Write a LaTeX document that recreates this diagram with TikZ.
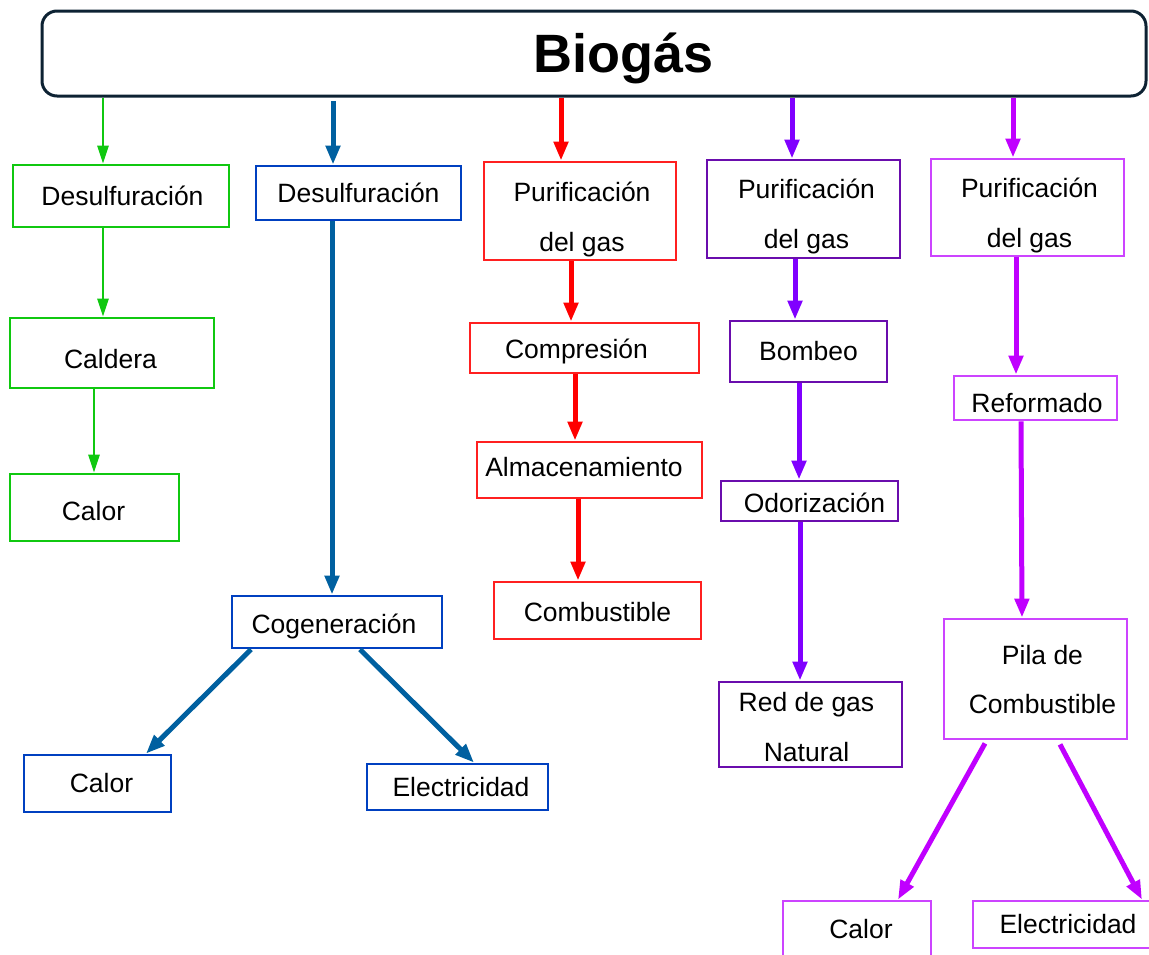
\documentclass[tikz,border=0pt]{standalone}
\usepackage{fontspec}
\setmainfont{Liberation Sans}
\usetikzlibrary{arrows.meta}
\definecolor{cgreen}{RGB}{16,200,16}
\definecolor{cbluea}{RGB}{0,96,160}
\definecolor{cblueb}{RGB}{0,64,192}
\definecolor{creda}{RGB}{255,0,0}
\definecolor{credb}{RGB}{255,32,32}
\definecolor{cpura}{RGB}{128,0,255}
\definecolor{cpurb}{RGB}{106,13,173}
\definecolor{cmaga}{RGB}{192,0,255}
\definecolor{cmagb}{RGB}{204,68,255}
\definecolor{cnavy}{RGB}{13,34,51}
% shifted text: dx (right), dy (up)
\newcommand\sh[3]{\raisebox{#2}[\height][\depth]{\hspace*{#1}#3\hspace*{-#1}}}
\newcommand\tl[4]{\raisebox{#2}[0pt][0pt]{\hspace*{#1}\begin{tabular}{@{}c@{}}#3\\#4\end{tabular}\hspace*{-#1}}}
\tikzset{
  bx/.style={draw, line width=2.8pt, inner sep=0pt,
    font=\fontsize{26.5}{49.5}\selectfont},
  gbox/.style={bx, draw=cgreen},
  bbox/.style={bx, draw=cblueb},
  rbox/.style={bx, draw=credb},
  pbox/.style={bx, draw=cpurb},
  mbox/.style={bx, draw=cmagb},
  garr/.style={draw=cgreen, line width=2.6pt, -{Triangle[length=18pt,width=11pt]}, fill=cgreen},
  barr/.style={draw=cbluea, line width=5pt, -{Triangle[length=19pt,width=14pt]}, fill=cbluea},
  rarr/.style={draw=creda, line width=5pt, -{Triangle[length=19pt,width=14pt]}, fill=creda},
  parr/.style={draw=cpura, line width=5pt, -{Triangle[length=19pt,width=14pt]}, fill=cpura},
  marr/.style={draw=cmaga, line width=5pt, -{Triangle[length=19pt,width=14pt]}, fill=cmaga},
}
\begin{document}
\begin{tikzpicture}[x=1pt,y=-1pt]
\useasboundingbox (0,0) rectangle (1149,954);
\clip (0,0) rectangle (1149,954);
% top
\node[draw=cnavy, line width=3pt, rounded corners=15pt, minimum width=1104pt, minimum height=85pt, inner sep=0pt,
  font=\fontsize{54}{60}\selectfont\bfseries] (top) at (594,53.5) {\sh{30pt}{-5pt}{Biogás}};
% green
\node[gbox, minimum width=216pt, minimum height=62pt] (g1) at (121,196) {\sh{1.5pt}{0pt}{Desulfuración}};
\node[gbox, minimum width=204pt, minimum height=70pt] (g2) at (112,353) {\sh{-1.5pt}{-6pt}{Caldera}};
\node[gbox, minimum width=169pt, minimum height=67pt] (g3) at (94.5,507.5) {\sh{-1pt}{-4pt}{Calor}};
% blue
\node[bbox, minimum width=205pt, minimum height=54pt] (b1) at (358.5,193) {Desulfuración};
\node[bbox, minimum width=210pt, minimum height=52pt] (b2) at (337,622) {\sh{-3pt}{-4pt}{Cogeneración}};
\node[bbox, minimum width=147pt, minimum height=57pt] (b3) at (97.5,783.5) {\sh{4pt}{0pt}{Calor}};
\node[bbox, minimum width=181pt, minimum height=46pt] (b4) at (457.5,787) {\sh{3.5pt}{0pt}{Electricidad}};
% red
\node[rbox, minimum width=192pt, minimum height=98pt] (r1) at (580,211) {\tl{2pt}{-12pt}{Purificación}{del gas}};
\node[rbox, minimum width=229pt, minimum height=50pt] (r2) at (584.5,348) {\sh{-8pt}{-3pt}{Compresión}};
\node[rbox, minimum width=225pt, minimum height=56pt] (r3) at (589.5,470) {\sh{-5.5pt}{3pt}{Almacenamiento}};
\node[rbox, minimum width=207pt, minimum height=57pt] (r4) at (597.5,610.5) {\sh{0pt}{-2pt}{Combustible}};
% purple
\node[pbox, minimum width=193pt, minimum height=98pt] (p1) at (803.5,209) {\tl{3pt}{-11pt}{Purificación}{del gas}};
\node[pbox, minimum width=157pt, minimum height=61pt] (p2) at (808.5,351.5) {Bombeo};
\node[pbox, minimum width=177pt, minimum height=40pt] (p3) at (809.5,501) {\sh{5pt}{-2pt}{Odorización}};
\node[pbox, minimum width=183pt, minimum height=85pt] (p4) at (810.5,724.5) {\tl{-4pt}{-8.5pt}{Red de gas}{Natural}};
% magenta
\node[mbox, minimum width=193pt, minimum height=97pt] (m1) at (1027.5,207.5) {\tl{2pt}{-11.5pt}{Purificación}{del gas}};
\node[mbox, minimum width=163pt, minimum height=44pt] (m2) at (1035.5,398) {\sh{1.5pt}{-5pt}{Reformado}};
\node[mbox, minimum width=183pt, minimum height=120pt] (m3) at (1035.5,679) {\tl{7pt}{-6.5pt}{Pila de}{Combustible}};
\node[mbox, minimum width=148pt, minimum height=60pt] (m4) at (857,931) {\sh{4pt}{2pt}{Calor}};
\node[mbox, minimum width=186pt, minimum height=47pt] (m5) at (1066,924.5) {\sh{2pt}{0pt}{Electricidad}};
% arrows green
\draw[garr] (top.south -| 103,0) -- (g1.north -| 103,0);
\draw[garr] (g1.south -| 103,0) -- (g2.north -| 103,0);
\draw[garr] (g2.south -| 94,0) -- (g3.north -| 94,0);
% arrows blue
\draw[barr] (333,101) -- (b1.north -| 333,0);
\draw[barr] (b1.south -| 332,0) -- (b2.north -| 332,0);
\draw[barr] (b2.south -| 251,0) -- (b3.north -| 146,0);
\draw[barr] (b2.south -| 360,0) -- (b4.north -| 474,0);
% arrows red
\draw[rarr] (top.south -| 561,0) -- (r1.north -| 561,0);
\draw[rarr] (r1.south -| 571,0) -- (r2.north -| 571,0);
\draw[rarr] (r2.south -| 575,0) -- (r3.north -| 575,0);
\draw[rarr] (r3.south -| 578,0) -- (r4.north -| 578,0);
% arrows purple
\draw[parr] (top.south -| 792,0) -- (p1.north -| 792,0);
\draw[parr] (p1.south -| 795,0) -- (p2.north -| 795,0);
\draw[parr] (p2.south -| 799,0) -- (p3.north -| 799,0);
\draw[parr] (p3.south -| 800,0) -- (p4.north -| 800,0);
% arrows magenta
\draw[marr] (top.south -| 1013,0) -- (m1.north -| 1013,0);
\draw[marr] (m1.south -| 1016,0) -- (m2.north -| 1016,0);
\draw[marr] (m2.south -| 1021,0) -- (m3.north -| 1022,0);
\draw[marr] ([yshift=-3pt]m3.south -| 985,0) -- (m4.north -| 898,0);
\draw[marr] ([yshift=-4pt]m3.south -| 1060,0) -- (m5.north -| 1142,0);
\end{tikzpicture}
\end{document}
